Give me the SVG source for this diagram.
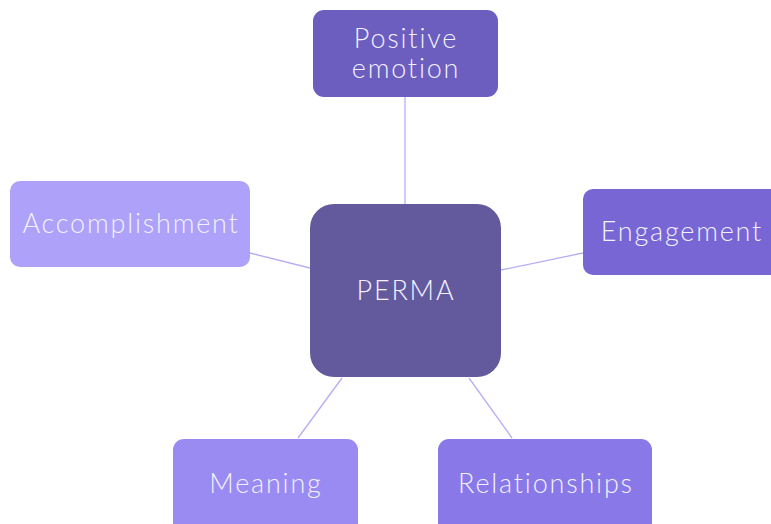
<svg xmlns="http://www.w3.org/2000/svg" width="771" height="524" viewBox="0 0 771 524">
<style>
.t{font-family:Lato,"Open Sans","Liberation Sans",sans-serif;font-weight:300;font-size:27px;fill:#F3F1FF;text-anchor:middle;dominant-baseline:central;letter-spacing:1.8px}
.c{stroke:#B6AEF5;stroke-width:1.3;fill:none}
</style>
<rect width="771" height="524" fill="#FFFFFF"/>
<g id="connectors">
<line class="c" x1="405" y1="97" x2="405" y2="204"/>
<line class="c" x1="501" y1="270" x2="583" y2="253"/>
<line class="c" x1="250" y1="253" x2="310" y2="268"/>
<line class="c" x1="298" y1="438" x2="342" y2="378"/>
<line class="c" x1="512" y1="438" x2="469" y2="378"/>
</g>
<g id="perma">
<rect x="310" y="204" width="191" height="173" rx="24" fill="#635A9E"/>
<text class="t" x="406" y="289">PERMA</text>
</g>
<g id="positive-emotion">
<rect x="313" y="10" width="185" height="87" rx="11" fill="#6B5EBF"/>
<text class="t" x="406" y="37">Positive</text>
<text class="t" x="406" y="67">emotion</text>
</g>
<g id="engagement">
<rect x="583" y="189" width="200" height="86" rx="10" fill="#7766D4"/>
<text class="t" x="682" y="230">Engagement</text>
</g>
<g id="accomplishment">
<rect x="10" y="181" width="240" height="86" rx="10" fill="#ADA1FA"/>
<text class="t" x="131" y="222">Accomplishment</text>
</g>
<g id="meaning">
<rect x="173" y="439" width="185" height="100" rx="11" fill="#9A8BF2"/>
<text class="t" x="266" y="482">Meaning</text>
</g>
<g id="relationships">
<rect x="438" y="439" width="214" height="100" rx="11" fill="#8878E8"/>
<text class="t" x="546" y="482">Relationships</text>
</g>
</svg>
